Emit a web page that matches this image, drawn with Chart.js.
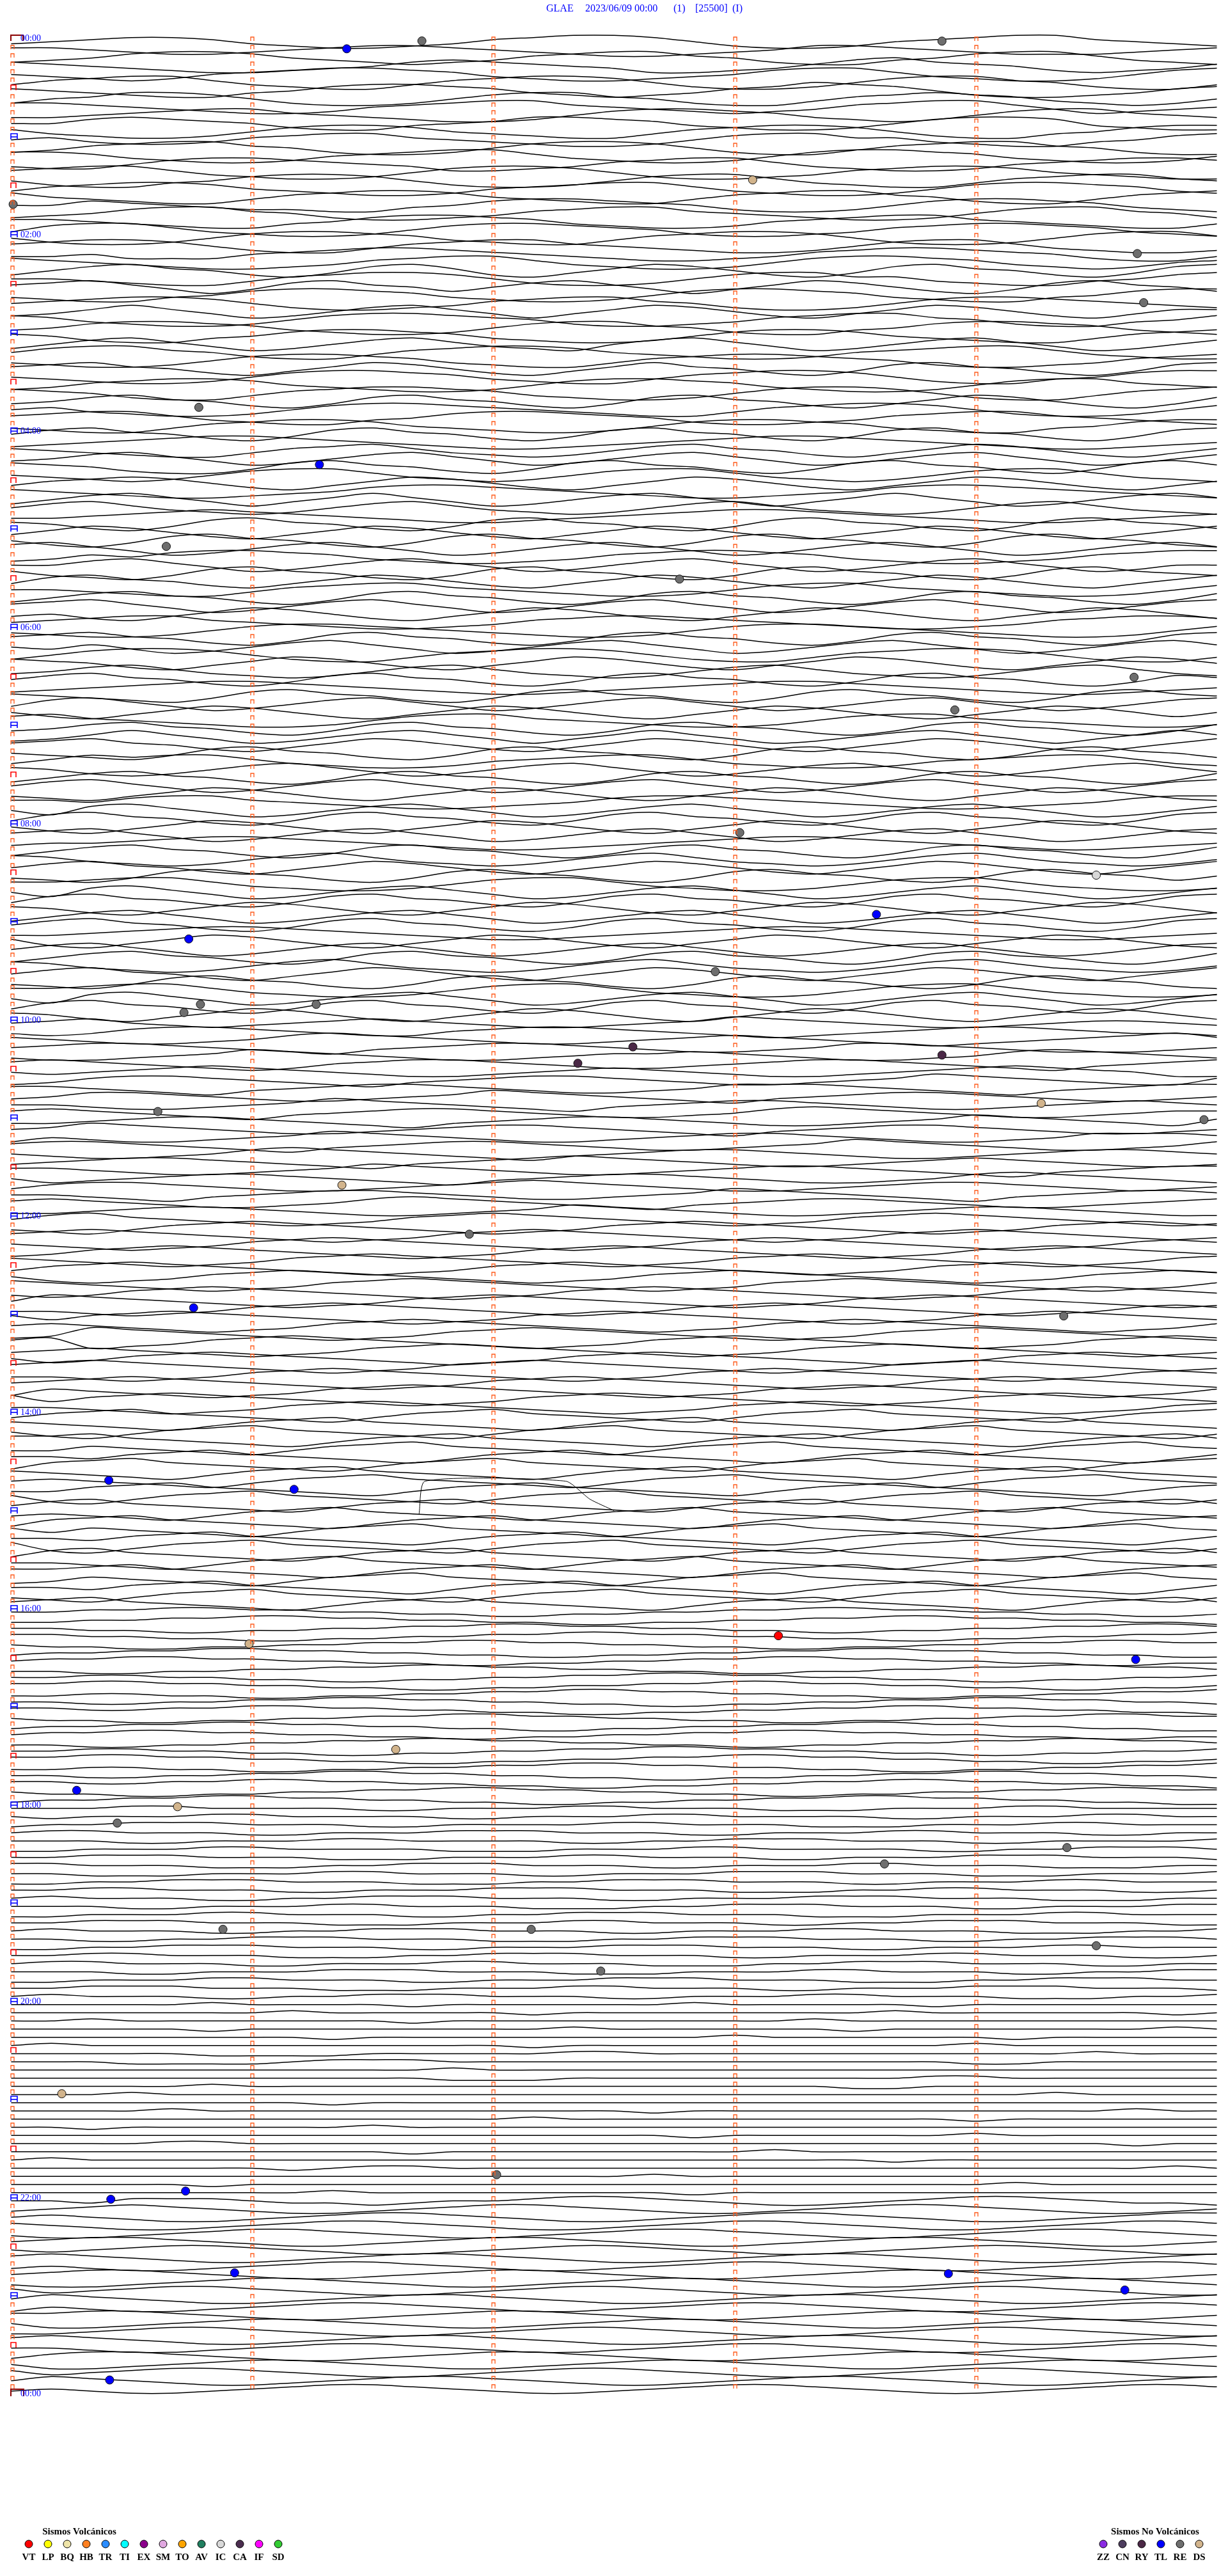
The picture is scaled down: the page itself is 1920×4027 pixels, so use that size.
<!DOCTYPE html>
<html>
<head>
<meta charset="utf-8">
<script src="https://cdn.jsdelivr.net/npm/chart.js@4.4.0/dist/chart.umd.min.js"></script>
<style>
  html, body { margin: 0; padding: 0; background: #ffffff; }
  canvas { display: block; }
</style>
</head>
<body>
<canvas id="heli" width="1920" height="4027"></canvas>
<script>
// Station header and time labels
const titleParts = ['GLAE', '2023/06/09 00:00', '(1)', '[25500]', '(I)'];
const hourLabels = ['00:00', '02:00', '04:00', '06:00', '08:00', '10:00', '12:00',
  '14:00', '16:00', '18:00', '20:00', '22:00', '00:00'];
const minuteMarks = [0, 60, 120, 180, 240];

// One string per 5-minute trace, one digit every 10 s (5 = trace baseline)
const waves00to06 = [
  '4567764322346788753223567886543', '6654334567765432234577654333456', '3457887543234678865322457886432',
  '7654322345787654223468976532346', '5432356788764322345788643223578', '4678864322467887532235788653224',
  '6543224578876432346798753223467', '3568875322357886532246787643235', '7765432235678865432346788642345',
  '4456788654322357887643235788654', '5578765322456887643223578874322', '6432235788754322467887532245788',
  '5643346788654322357886643224578', '3467886532235788753224678865322', '7764322356788643223578876432235',
  '4335788765422346788643223567887', '6788643223578875322346788754322', '5322457887532235788643224678865',
  '4678875432235678864322357887643', '7543224678875432246788653224678', '5576543322457887653223578876432',
  '3457886532234678865432235788653', '6654322457887643223567886543224', '4788643223578876532234678876432',
  '5322357887643224678875322357886', '6788753224678865432235788643223', '4453335678876543223467887653224',
  '7654322346788643223578876432356', '3578653247863246875324786532478', '5543224678875322357886643224578',
  '6786424786535786424687532478653', '4322457887643223578876432245788', '5678875322346788653223578876543',
  '3468642357864246875324687532466', '7643223578876532234678865322457', '4578876432235788653224578876432',
  '6532245788764322357887543224678', '3578642357864325786423578642357', '5788653224678875432235678864322',
  '4322357887643224678876532234678', '6786532468753246865324786532478', '5432235788764322467887532245788',
  '3467887543223578876432235788654', '7653224678876432235788753224678', '4578653247865324786532468753247',
  '5643223578876543224678875322357', '6788643224578876532234678865432', '4322467887543223578876432245788',
  '5786532478653247865324786532478', '3456788765432234567887654322345', '6543224678643235786532468753246',
  '4578642357864235786423578642357', '7653224786532478653247865324786', '5432357886432357886432357886432',
  '4678753246875324687532468753246', '6543223457887654322345788765432', '3578642468642357864246864235786',
  '5786432357864323578643235786432', '4456787654322345678876543223456', '6532478653247865324786532478653',
  '4687532468753246875324687532468', '5324786532478653247865324786532', '7864235786423578642357864235786',
  '3465788764322346788764322346788', '5578642357864235786423578642355', '6432478653247865324786532478654',
  '4786532468753246875324687532468', '5543224678865432235788654322357', '3578653247865324786532478653247',
  '6786423578642357864235786423578', '4532468753246875324687532468753', '5678865432234678876543223467887'
];
const waves06to12 = [
  '4322357887654322357887654322357', '6786532478653247865324786532478', '5464235786423578642357864235786',
  '3578875322467887532246788753224', '7653246875324687532468753246875', '4578643235786432357864323578643',
  '5786532478653247865324786532476', '3456788765432234567887654322345', '6543247865324786532478653247865',
  '4786423578642357864235786423578', '5324687532468753246875324687535', '7865432235788654322357886543223',
  '4578653247865324786532478653247', '3468642357864246864235786424686', '6786532468753246875324687532468',
  '5432478653247865324786532478653', '4687886432235678864322356788643', '6532357864235786423578642357864',
  '3578653247865324786532478653247', '5786423578642357864235786423578', '4324687532468753246875324687532',
  '6657886543223457887654322345788', '5378642357864235786423578642357', '4786532478653247865324786532478',
  '5324687532468753246875324687532', '6786423578642357864235786423578', '4556788765432234567887654322345',
  '3578653247865324786532478653247', '7643235786432357864323578643235', '5786532468753246875324687532468',
  '4324786532478653247865324786535', '6678864322357886432235788643223', '5378642357864235786423578642357',
  '4786532478653247865324786532478', '6532468753246875324687532468753', '3578642357864235786423578642357',
  '5786532478653247865324786532478', '4456788765432234567887654322345', '6324687532468753246875324687532',
  '5786423578642357864235786423578', '3578653247865324786532478653247', '7643235786432357864323578643235',
  '5786532468753246875324687532468', '4324786532478653247865324786532', '6678864322357886432235788643223',
  '5378642357864235786423578642357', '4786532478653247865324786532478', '6532468753246875324687532468753',
  '5675434567654334568765433456654', '4346776543356776543234567765443', '6543345787654334567654323456786',
  '5677654324567765433457765433345', '4334568765433456676543345787654', '6765432356776543345677654324567',
  '5456787654334567654334567876533', '3467765432456776543345687654336', '6654324567765433457776543245677',
  '4577654334568765432456776543345', '5543345687654324567765433456765', '6765432456776543345787654334566',
  '4456776543245677654334568765436', '5687654334567765432456776543345', '3543345687654334567765433457776',
  '6776543245677654334568765433457', '5433457876543245677654334567765', '4567765432456787654334567654334',
  '6654334568765433456776543245677', '5345677654324567765433457876543', '4677654334567876543345677654345',
  '5543245677654334568765432456776', '6765433457876543245677654334567', '4456776543345687654334567765433'
];
const waves12to18 = [
  '5786543234678765432346787654323', '4324678765432346787654323467876', '6787654323467876543234678765432',
  '5432346787654323467876543234678', '3467876543234678765432346787654', '6543234678765432346787654323467',
  '4678765432346787654323467876543', '5323467876543234678765432346787', '7654323467876543234678765432346',
  '4346787654323467876543234678765', '5876543234678765432346787654323', '4432346787654323467876543234676',
  '6467876543234678765432346787654', '5654323467876543234678765432346', '3487654323467876543234678765432',
  '6723467876543234678765432346787', '4565432346787654323467876543234', '5346787654323467876543234678765',
  '6787654323467876543234678765432', '4432346787654323467876543234678', '5678765432346787654323467876543',
  '3654323467876543234678765432346', '7467876543234678765432346787654', '5543234678765432346787654323467',
  '4678654324678654324678654324678', '6543246786543246786543246786543', '5324678654324678654324678654324',
  '7786543246786543246786543246786', '4465432467865432467865432467865', '5546786543246786543246786543246',
  '3678654324678654324678654324678', '6543246786543246786543246786543', '5654324678654324678654324678654',
  '4467865432467865432467865432467', '6324678654324678654324678654324', '5786543246786543246786543246786',
  '4543246786543246786543246786543', '3678654324678654324678654324678', '6465432467865432467865432467865',
  '5546786543246786543246786543246', '7324678654324678654324678654324', '4786543246786543246786543246786',
  '5543246786543246786543246786543', '6678654324678654324678654324678', '3465432467865432467865432467865',
  '5546786543246786543246786543246', '4324678654324678654324678654324', '6786543246786543246786543246786',
  '5566776655443344556677665544334', '4455667766554433445566776655443', '5544334455667766554433445566776',
  '6655443344556677665544334455667', '5443344556677665544334455667766', '4556677665544334455667766554433',
  '5667766554433445566776655443344', '4433445566776655443344556677665', '5566554433445566776655443344556',
  '6677665544334455667766554433445', '4455443344556677665544334455667', '5544556677665544334455667766554',
  '6655667766554433445566776655443', '5443344556677665544334455667766', '4556677665544334455667766554433',
  '5667766554433445566776655443344', '4433445566776655443344556677665', '5566554433445566776655443344556',
  '6677665544334455667766554433445', '4455443344556677665544334455667', '5544556677665544334455667766554',
  '6655667766554433445566776655443', '5443344556677665544334455667766', '4556677665544334455667766554433'
];
const waves18to24 = [
  '5556655554455566555444555665555', '5455566555544555665555445556655', '4556665554455556655544455566555',
  '5665554455566655544555665554455', '5554455566555544556665554455556', '4455566555544455566555544556665',
  '5566655544455566555445556665554', '6655544455666555445556655544455', '5544455566555445556665554445556',
  '4455666555444556665554455566555', '5566555445556665554445566555445', '5655544556665554455566655544455',
  '5554455566555444556665554455566', '4455566555445566655544455566555', '5566655544455566555445566655544',
  '5655544556665554455566555444556', '5544556665554445566655544556665', '4455666555445556665554455566555',
  '5566555444556665554455566555445', '5665554455566555444556665554455', '5554455566655544455566555445566',
  '4455566555445556665554445566655', '5566655544455566555445556665554', '5655544556665554455566555444556',
  '5555565555455555565555545555555', '5555555655555455555555655555545', '5565555555455555555565555555555',
  '5555545555555565555554555555565', '5555555545555555556555555455555', '5655555555555455555555556555555',
  '5555544445555566555555555556555', '5554444566655555555555554455555', '5555555555565555555555555555555',
  '5555555555544455555555566555555', '5555565555555555555554455555555', '5556555555555555555555555565555',
  '5555555545555555555555555555555', '5555655555555555455555555555655', '5555555555555655555555554555555',
  '5545555556555555555555555555555', '5555555555555555545555556555555', '5555665555555555555555555555455',
  '5555555555455555555655555555555', '5655555555555555555555455555555', '5555555456655555555555555555565',
  '5555555555555555655555555555555', '5555545555555555555555555655555', '5555555565555555545555555555555',
  '5546665443455677654334567765443', '4567654334567765433456776543345', '5654334567765433456776543345677',
  '6543345677654334567765433456776', '4334567765433456776543345677654', '5677654334567765433456776543345',
  '5456776543345677654334567765433', '6765433456776543345677654334567', '4543345677654334567765433456776',
  '5677654334567765433456776543345', '4334567765433456776543345677654', '6456776543345677654334567765433',
  '5765433456776543345677654334567', '3543345677654334567765433456776', '6677654334567765433456776543345',
  '5334567765433456776543345677654', '4456776543345677654334567765433', '6765433456776543345677654334567',
  '5543345677654334567765433456776', '4677654334567765433456776543345', '5334567765433456776543345677654',
  '6456776543345677654334567765433', '5765433456776543345677654334567', '4543345677654334567765433456776'
];
const traceWaves = [...waves00to06, ...waves06to12, ...waves12to18, ...waves18to24];

// Picked events: time inside the 5-minute trace (s), trace position, event type
const eventTimes = [102.2, 83.5, 231.6, 184.5, 0.5, 280.2, 281.8, 46.7, 76.7, 38.6, 166.3, 279.4, 234.8,
  181.3, 270.0, 215.3, 44.2, 175.2, 47.1, 43.0, 75.9, 154.7, 141.0, 231.6, 256.3, 36.5, 296.8, 82.3,
  114.0, 45.4, 261.9, 24.3, 70.4, 190.9, 59.2, 279.8, 95.7, 16.3, 41.4, 26.4, 217.3, 262.7, 52.7,
  129.4, 146.7, 270.0, 12.6, 120.8, 43.4, 24.8, 55.6, 233.2, 277.1, 24.5];
const eventRows = [-0.1, 0.86, -0.08, 16.89, 19.87, 25.9, 31.9, 44.7, 51.7, 61.7, 65.7, 77.7, 81.7,
  96.7, 101.9, 106.7, 109.7, 113.7, 117.7, 118.7, 117.7, 122.9, 124.9, 123.9, 129.8, 130.8, 131.8, 139.8,
  145.8, 154.8, 155.8, 175.9, 177.0, 194.9, 195.9, 197.8, 208.8, 213.8, 215.8, 217.8, 222.8, 220.8, 230.8,
  230.8, 235.9, 232.8, 250.9, 260.8, 262.8, 263.8, 272.8, 272.9, 274.9, 285.9];
const eventTypes = ['RE', 'TL', 'RE', 'DS', 'RE', 'RE', 'RE', 'RE', 'TL', 'RE', 'RE', 'RE', 'RE',
  'RE', 'IC', 'TL', 'TL', 'RE', 'RE', 'RE', 'RE', 'RY', 'RY', 'RY', 'DS', 'RE', 'RE', 'DS',
  'RE', 'TL', 'RE', 'TL', 'TL', 'VT', 'DS', 'TL', 'DS', 'TL', 'DS', 'RE', 'RE', 'RE', 'RE',
  'RE', 'RE', 'RE', 'DS', 'RE', 'TL', 'TL', 'TL', 'TL', 'TL', 'TL'];

// Spike glitch drawn around 14:40
const glitchTimes = [101.5, 103.0, 138.0, 144.0, 150.0];
const glitchRows = [180.0, 176.0, 176.0, 178.2, 179.6];

// Legend
const volcanicCodes = ['VT', 'LP', 'BQ', 'HB', 'TR', 'TI', 'EX', 'SM', 'TO', 'AV', 'IC', 'CA', 'IF', 'SD'];
const volcanicColors = ['#ff0000', '#ffff00', '#eee4a8', '#ff8020', '#2a8cff', '#00ffff', '#8b008b',
  '#e0a8e0', '#ffa500', '#217f60', '#d8d8d8', '#4b2d4f', '#ff00ff', '#33cc33'];
const nonVolcanicCodes = ['ZZ', 'CN', 'RY', 'TL', 'RE', 'DS'];
const nonVolcanicColors = ['#8a2be2', '#4d3d5e', '#4b2846', '#0000ff', '#6e6e6e', '#d2b48c'];

const TRACE_SECONDS = 300;
const DIGIT_STEP = 0.26;
const SERIF = "'Liberation Serif', 'Times New Roman', serif";

function colorForType(code) {
  const vi = volcanicCodes.indexOf(code);
  const ni = nonVolcanicCodes.indexOf(code);
  // non-volcanic first: TL/RE/DS/RY dots use that palette
  if (ni >= 0) return nonVolcanicColors[ni];
  return vi >= 0 ? volcanicColors[vi] : '#808080';
}

function traceDataset(wave, row) {
  const digits = wave.split('');
  const step = TRACE_SECONDS / (digits.length - 1);
  return {
    data: digits.map((d, k) => ({ x: k * step, y: row - (Number(d) - 5) * DIGIT_STEP })),
    showLine: true,
    borderColor: '#000000',
    borderWidth: 1.5,
    pointRadius: 0,
    tension: 0.3,
    fill: false,
    order: 2,
  };
}

function drawCap(ctx, left, bottom, width, height) {
  ctx.beginPath();
  ctx.moveTo(left, bottom);
  ctx.lineTo(left, bottom - height);
  ctx.lineTo(left + width, bottom - height);
  ctx.lineTo(left + width, bottom);
  ctx.stroke();
}

const helicorderMarks = {
  id: 'helicorderMarks',
  afterDatasetsDraw(chart) {
    const { ctx, scales: { x, y } } = chart;
    ctx.save();
    const x0 = Math.round(x.getPixelForValue(0));

    for (let row = 0; row < traceWaves.length; row++) {
      const base = Math.round(y.getPixelForValue(row));
      ctx.lineWidth = 1.3;
      ctx.strokeStyle = '#ff5a1a';
      for (const m of minuteMarks.slice(1)) {
        const px = Math.round(x.getPixelForValue(m));
        drawCap(ctx, px - 2, base - 1, 5, 6);
      }
      if (row === 0) {
        ctx.strokeStyle = '#8b0000';
        ctx.lineWidth = 2;
        drawCap(ctx, x0, base - 1, 19, 9);
      } else if (row % 12 === 0) {
        ctx.strokeStyle = '#0000ff';
        ctx.lineWidth = 1.6;
        drawCap(ctx, x0, base - 1, 10, 9);
        ctx.beginPath();
        ctx.moveTo(x0, base - 5);
        ctx.lineTo(x0 + 10, base - 5);
        ctx.stroke();
      } else if (row % 12 === 6) {
        ctx.strokeStyle = '#ff0000';
        ctx.lineWidth = 1.6;
        drawCap(ctx, x0, base - 1, 8, 8);
      } else {
        drawCap(ctx, x0, base - 1, 5, 6);
      }
    }

    // closing bracket of the day
    const lastBase = Math.round(y.getPixelForValue(traceWaves.length));
    ctx.strokeStyle = '#8b0000';
    ctx.lineWidth = 2;
    drawCap(ctx, x0, lastBase - 1, 20, 11);

    // time labels every two hours
    ctx.fillStyle = '#0000ff';
    ctx.font = `14px ${SERIF}`;
    ctx.textBaseline = 'alphabetic';
    ctx.textAlign = 'left';
    hourLabels.forEach((label, k) => {
      const base = Math.round(y.getPixelForValue(k * 24));
      ctx.fillText(label, 32, base - 1);
    });

    // header
    ctx.font = `16px ${SERIF}`;
    const titleX = [854, 915, 1053, 1087, 1145];
    titleParts.forEach((part, k) => ctx.fillText(part, titleX[k], 18));

    // legends
    ctx.fillStyle = '#000000';
    ctx.font = `bold 15px ${SERIF}`;
    ctx.textAlign = 'center';
    ctx.fillText('Sismos Volcánicos', 124, 3962);
    ctx.fillText('Sismos No Volcánicos', 1806, 3962);
    const drawKey = (codes, colors, startX) => {
      codes.forEach((code, k) => {
        const cx = startX + k * 30;
        ctx.beginPath();
        ctx.arc(cx, 3977, 6, 0, Math.PI * 2);
        ctx.fillStyle = colors[k];
        ctx.fill();
        ctx.lineWidth = 1;
        ctx.strokeStyle = '#000000';
        ctx.stroke();
        ctx.fillStyle = '#000000';
        ctx.fillText(code, cx, 4002);
      });
    };
    drawKey(volcanicCodes, volcanicColors, 45);
    drawKey(nonVolcanicCodes, nonVolcanicColors, 1725);
    ctx.restore();
  }
};

const datasets = [
  {
    data: eventTimes.map((t, k) => ({ x: t, y: eventRows[k] })),
    showLine: false,
    pointRadius: 6.5,
    pointBackgroundColor: eventTypes.map(colorForType),
    pointBorderColor: '#111111',
    pointBorderWidth: 1,
    order: 0,
  },
  {
    data: glitchTimes.map((t, k) => ({ x: t, y: glitchRows[k] })),
    showLine: true,
    borderColor: '#000000',
    borderWidth: 1,
    pointRadius: 0,
    tension: 0.2,
    order: 1,
  },
  ...traceWaves.map((wave, row) => traceDataset(wave, row)),
];

new Chart(document.getElementById('heli'), {
  type: 'scatter',
  data: { datasets },
  options: {
    responsive: false,
    animation: false,
    devicePixelRatio: 1,
    events: [],
    layout: { padding: 0 },
    plugins: {
      legend: { display: false },
      tooltip: { enabled: false },
      title: { display: false },
    },
    scales: {
      x: { type: 'linear', display: false, min: -1.579, max: 301.58 },
      y: { type: 'linear', display: false, reverse: true, min: -4.52, max: 309.28 },
    },
  },
  plugins: [helicorderMarks],
});
</script>
</body>
</html>
